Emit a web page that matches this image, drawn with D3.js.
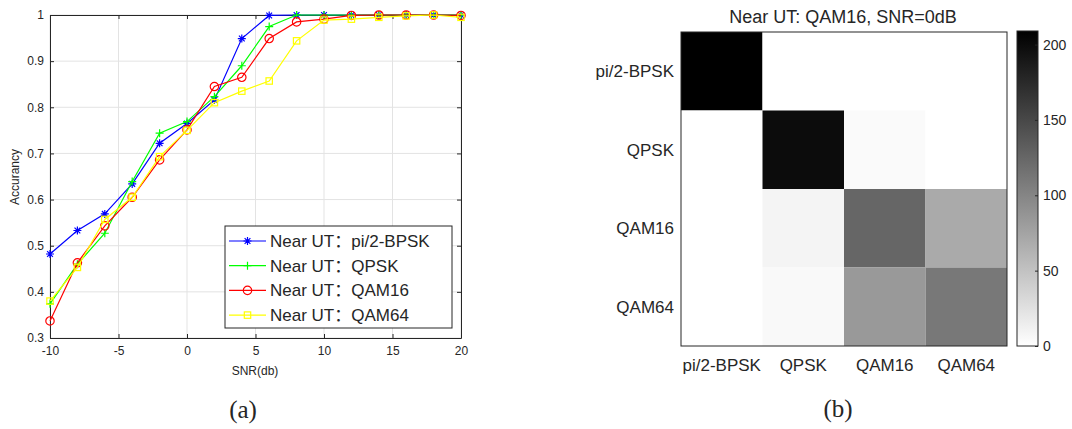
<!DOCTYPE html>
<html>
<head>
<meta charset="utf-8">
<script src="https://cdn.jsdelivr.net/npm/d3@7"></script>
<style>
  body { margin: 0; background: #fff; }
  svg text { font-family: "Liberation Sans", Arial, "Noto Sans CJK SC", sans-serif; fill: #262626; }
</style>
</head>
<body>
<div id="chart"></div>
<script>
// ---- data (a): accuracy vs SNR ----
const snr = [-10, -8, -6, -4, -2, 0, 2, 4, 6, 8, 10, 12, 14, 16, 18, 20];
const accBPSK = [0.482, 0.533, 0.569, 0.634, 0.722, 0.765, 0.816, 0.949, 0.999, 1, 1, 1, 1, 1, 1, 1];
const accQPSK = [0.374, 0.46, 0.527, 0.639, 0.744, 0.769, 0.823, 0.89, 0.975, 1, 1, 1, 1, 1, 1, 1];
const accQAM16 = [0.337, 0.463, 0.543, 0.605, 0.686, 0.751, 0.845, 0.865, 0.949, 0.985, 0.991, 0.999, 1, 1, 1, 0.999];
const accQAM64 = [0.38, 0.453, 0.557, 0.605, 0.693, 0.75, 0.81, 0.835, 0.857, 0.944, 0.989, 0.991, 0.995, 0.998, 1, 0.995];
const seriesNames = ["Near UT：pi/2-BPSK", "Near UT：QPSK", "Near UT：QAM16", "Near UT：QAM64"];
const xTicks = [-10, -5, 0, 5, 10, 15, 20];
const yTicks = [0.3, 0.4, 0.5, 0.6, 0.7, 0.8, 0.9, 1];

// ---- data (b): confusion matrix ----
const classes = ["pi/2-BPSK", "QPSK", "QAM16", "QAM64"];
const confusion = [
  [209, 0, 0, 0],
  [0, 199, 4, 0],
  [0, 9, 125, 70],
  [0, 5, 84, 111]
];
const cbTicks = [0, 50, 100, 150, 200];
const cbMax = 209;

const W = 1072, H = 429;
const svg = d3.select("#chart").append("svg").attr("width", W).attr("height", H);

// ================= (a) line chart =================
const x = d3.scaleLinear().domain([-10, 20]).range([50, 461]);
const y = d3.scaleLinear().domain([0.3, 1]).range([338, 15]);

const gA = svg.append("g");

// grid
gA.selectAll(".gx").data(xTicks).enter().append("line")
  .attr("x1", d => x(d)).attr("x2", d => x(d))
  .attr("y1", y(0.3)).attr("y2", y(1))
  .attr("stroke", "#e3e3e3").attr("stroke-width", 1);
gA.selectAll(".gy").data(yTicks).enter().append("line")
  .attr("y1", d => y(d)).attr("y2", d => y(d))
  .attr("x1", x(-10)).attr("x2", x(20))
  .attr("stroke", "#e3e3e3").attr("stroke-width", 1);

// axes (ticks inward), plain hyphen for negatives
const fmt = d => String(d);
const axB = gA.append("g").attr("transform", `translate(0,${y(0.3)})`)
  .call(d3.axisBottom(x).tickValues(xTicks).tickFormat(fmt).tickSizeInner(-4).tickSizeOuter(0).tickPadding(8));
const axL = gA.append("g").attr("transform", `translate(${x(-10)},0)`)
  .call(d3.axisLeft(y).tickValues(yTicks).tickFormat(fmt).tickSizeInner(-4).tickSizeOuter(0).tickPadding(6));
const axT = gA.append("g").attr("transform", `translate(0,${y(1)})`)
  .call(d3.axisTop(x).tickValues(xTicks).tickSizeInner(-4).tickSizeOuter(0).tickFormat(""));
const axR = gA.append("g").attr("transform", `translate(${x(20)},0)`)
  .call(d3.axisRight(y).tickValues(yTicks).tickSizeInner(-4).tickSizeOuter(0).tickFormat(""));
[axB, axL, axT, axR].forEach(a => {
  a.select(".domain").attr("stroke", "#262626");
  a.selectAll(".tick line").attr("stroke", "#262626");
  a.selectAll("text").style("font-size", "12px").attr("fill", "#262626");
});

// labels
gA.append("text").attr("x", 255).attr("y", 375).attr("text-anchor", "middle")
  .style("font-size", "12px").text("SNR(db)");
gA.append("text").attr("transform", "translate(19,177) rotate(-90)").attr("text-anchor", "middle")
  .style("font-size", "12px").text("Accurancy");

// markers
function drawMarker(g, type, color) {
  if (type === "star") {
    const r = 4;
    g.append("path").attr("d",
      `M${-r},0H${r}M0,${-r}V${r}M${-r * 0.72},${-r * 0.72}L${r * 0.72},${r * 0.72}M${-r * 0.72},${r * 0.72}L${r * 0.72},${-r * 0.72}`)
      .attr("stroke", color).attr("stroke-width", 1.2).attr("fill", "none");
  } else if (type === "plus") {
    const r = 4;
    g.append("path").attr("d", `M${-r},0H${r}M0,${-r}V${r}`)
      .attr("stroke", color).attr("stroke-width", 1.2).attr("fill", "none");
  } else if (type === "circle") {
    g.append("circle").attr("r", 4.2).attr("stroke", color).attr("stroke-width", 1.2).attr("fill", "none");
  } else {
    g.append("rect").attr("x", -3.2).attr("y", -3.2).attr("width", 6.4).attr("height", 6.4)
      .attr("stroke", color).attr("stroke-width", 1.2).attr("fill", "none");
  }
}

const series = [
  { name: seriesNames[0], values: accBPSK, color: "#0000ff", marker: "star" },
  { name: seriesNames[1], values: accQPSK, color: "#00ff00", marker: "plus" },
  { name: seriesNames[2], values: accQAM16, color: "#ff0000", marker: "circle" },
  { name: seriesNames[3], values: accQAM64, color: "#ffff00", marker: "square" }
];

const line = d3.line().x(d => x(d[0])).y(d => y(d[1]));
series.forEach(s => {
  const pts = snr.map((v, i) => [v, s.values[i]]);
  gA.append("path").datum(pts).attr("d", line)
    .attr("fill", "none").attr("stroke", s.color).attr("stroke-width", 1.2);
  pts.forEach(p => {
    const m = gA.append("g").attr("transform", `translate(${x(p[0])},${y(p[1])})`);
    drawMarker(m, s.marker, s.color);
  });
});

// legend
const leg = gA.append("g").attr("transform", "translate(225,226)");
leg.append("rect").attr("width", 227).attr("height", 102)
  .attr("fill", "#fff").attr("stroke", "#262626").attr("stroke-width", 1);
series.forEach((s, i) => {
  const row = leg.append("g").attr("transform", `translate(0,${15 + i * 24.7})`);
  row.append("line").attr("x1", 4).attr("x2", 41).attr("stroke", s.color).attr("stroke-width", 1.2);
  drawMarker(row.append("g").attr("transform", "translate(22.5,0)"), s.marker, s.color);
  row.append("text").attr("x", 45).attr("y", 6).style("font-size", "17px").attr("fill", "#000").text(s.name);
});

// caption
svg.append("text").attr("x", 243).attr("y", 418).attr("text-anchor", "middle")
  .style("font-family", "'Liberation Serif', 'Times New Roman', serif").style("font-size", "25px")
  .attr("fill", "#000").text("(a)");

// ================= (b) heatmap =================
const hx = d3.scaleBand().domain(classes).range([681, 1007]);
const hy = d3.scaleBand().domain(classes).range([32, 346]);
const grey = d3.scaleLinear().domain([0, cbMax]).range(["#ffffff", "#000000"]);

const gB = svg.append("g");
const cells = [];
confusion.forEach((row, i) => row.forEach((v, j) => cells.push({ r: classes[i], c: classes[j], v })));
gB.selectAll("rect.cell").data(cells).enter().append("rect")
  .attr("x", d => hx(d.c)).attr("y", d => hy(d.r))
  .attr("width", hx.bandwidth()).attr("height", hy.bandwidth())
  .attr("fill", d => grey(d.v));
gB.append("rect").attr("x", 681).attr("y", 32).attr("width", 326).attr("height", 314)
  .attr("fill", "none").attr("stroke", "#262626").attr("stroke-width", 1);

gB.selectAll("text.yl").data(classes).enter().append("text")
  .attr("x", 674).attr("y", d => hy(d) + hy.bandwidth() / 2 + 6)
  .attr("text-anchor", "end").style("font-size", "17px").text(d => d);
gB.selectAll("text.xl").data(classes).enter().append("text")
  .attr("x", d => hx(d) + hx.bandwidth() / 2).attr("y", 371)
  .attr("text-anchor", "middle").style("font-size", "17px").text(d => d);

gB.append("text").attr("x", 843).attr("y", 23).attr("text-anchor", "middle")
  .style("font-size", "18px").attr("fill", "#000").text("Near UT: QAM16, SNR=0dB");

// colorbar
const cbY = d3.scaleLinear().domain([0, cbMax]).range([346, 31]);
const defs = svg.append("defs");
const grad = defs.append("linearGradient").attr("id", "cbgrad")
  .attr("x1", 0).attr("y1", 1).attr("x2", 0).attr("y2", 0);
grad.append("stop").attr("offset", "0%").attr("stop-color", grey(0));
grad.append("stop").attr("offset", "100%").attr("stop-color", grey(cbMax));
gB.append("rect").attr("x", 1017).attr("y", 31).attr("width", 21).attr("height", 315)
  .attr("fill", "url(#cbgrad)").attr("stroke", "#262626").attr("stroke-width", 1);
const cbAx = gB.append("g").attr("transform", "translate(1038,0)")
  .call(d3.axisRight(cbY).tickValues(cbTicks).tickSizeInner(-3).tickSizeOuter(0).tickPadding(5));
cbAx.select(".domain").remove();
cbAx.selectAll(".tick line").attr("stroke", "#262626");
cbAx.selectAll("text").style("font-size", "14px").attr("fill", "#262626");

svg.append("text").attr("x", 838).attr("y", 417).attr("text-anchor", "middle")
  .style("font-family", "'Liberation Serif', 'Times New Roman', serif").style("font-size", "25px")
  .attr("fill", "#000").text("(b)");
</script>
</body>
</html>
